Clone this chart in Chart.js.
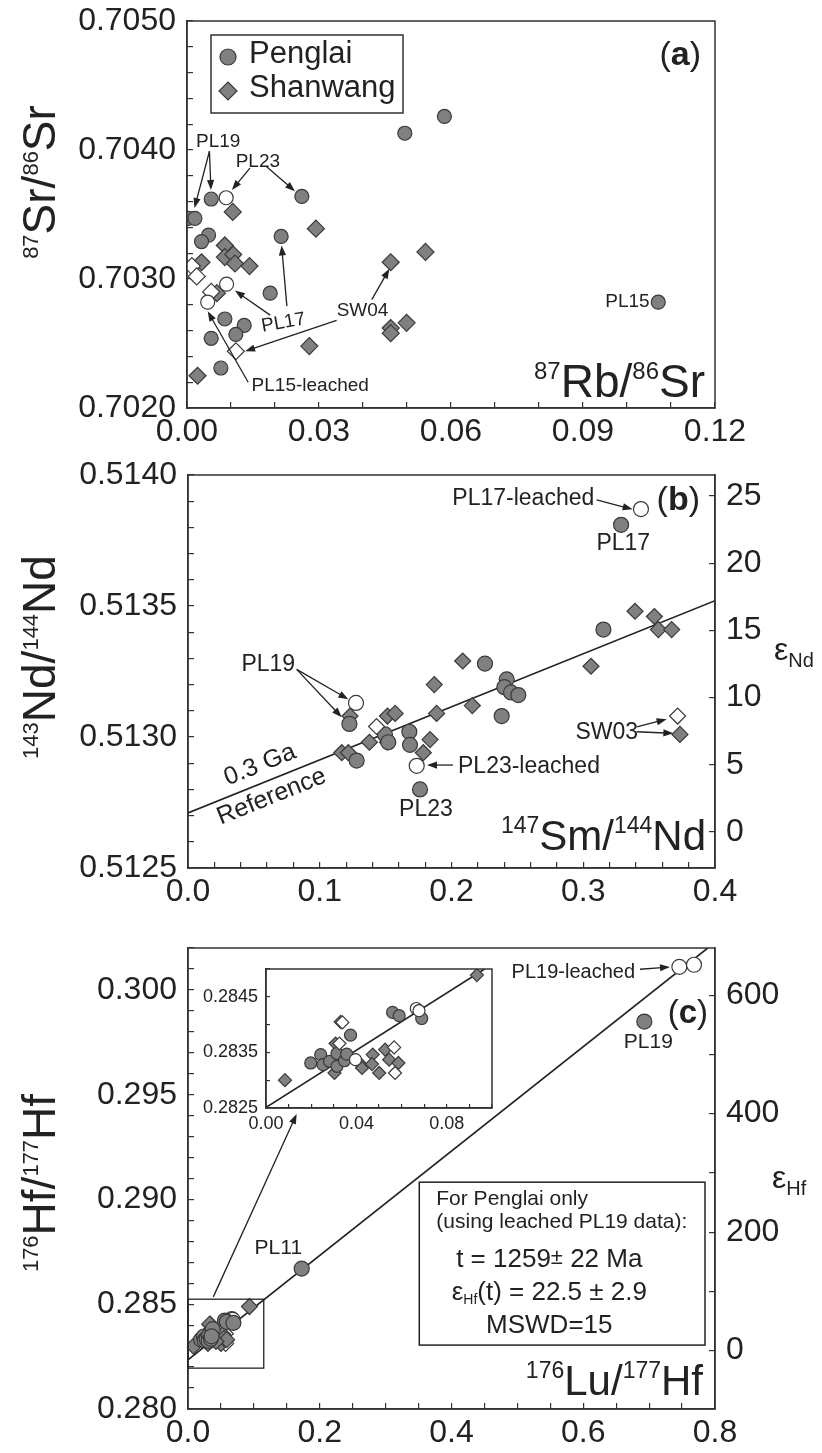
<!DOCTYPE html>
<html>
<head>
<meta charset="utf-8">
<title>Rb-Sr, Sm-Nd and Lu-Hf diagrams</title>
<script src="https://cdn.jsdelivr.net/npm/chart.js@4.4.1/dist/chart.umd.min.js"></script>
<style>
  body { margin: 0; background: #fff; }
  #page { position: relative; width: 822px; height: 1453px; overflow: hidden; }
  #page canvas { position: absolute; }
</style>
</head>
<body>
<div id="page">
  <canvas id="rbsr" width="822" height="450" style="left:0;top:0"></canvas>
  <canvas id="smnd" width="822" height="460" style="left:0;top:450px"></canvas>
  <canvas id="luhf" width="822" height="543" style="left:0;top:910px"></canvas>
  <canvas id="luhfZoom" width="320" height="185" style="left:190px;top:955px"></canvas>
</div>
<script>
// ---- (a) 87Rb/86Sr vs 87Sr/86Sr ----
const aPenglaiX = [0.0003, 0.0018, 0.0055, 0.0261, 0.0049, 0.0033, 0.0214, 0.0189, 0.0086, 0.0130, 0.0111, 0.0055, 0.0077, 0.0495, 0.0585, 0.1071];
const aPenglaiY = [0.70347, 0.70347, 0.70362, 0.70364, 0.70334, 0.70329, 0.70333, 0.70289, 0.70269, 0.70264, 0.70257, 0.70254, 0.70231, 0.70413, 0.70426, 0.70282];
const aPenglaiLeachedX = [0.0089, 0.0090, 0.0047];
const aPenglaiLeachedY = [0.70363, 0.70296, 0.70282];
const aShanwangX = [0.0104, 0.0293, 0.0086, 0.0086, 0.0105, 0.0109, 0.0033, 0.0142, 0.0542, 0.0463, 0.0068, 0.0463, 0.0463, 0.0499, 0.0278, 0.0024];
const aShanwangY = [0.70352, 0.70339, 0.70326, 0.70317, 0.70319, 0.70312, 0.70313, 0.70310, 0.70321, 0.70313, 0.70289, 0.70262, 0.70258, 0.70266, 0.70248, 0.70225];
const aShanwangLeachedX = [0.0011, 0.0022, 0.0055, 0.0111];
const aShanwangLeachedY = [0.70310, 0.70302, 0.70290, 0.70244];

// ---- (b) 147Sm/144Nd vs 143Nd/144Nd ----
const bPenglaiX = [0.1225, 0.1280, 0.1495, 0.1520, 0.1680, 0.1685, 0.1761, 0.2254, 0.2419, 0.2401, 0.2452, 0.2507, 0.2381, 0.3153, 0.3287];
const bPenglaiY = [0.51305, 0.51291, 0.51301, 0.51298, 0.51302, 0.51297, 0.51280, 0.51328, 0.51322, 0.51319, 0.51317, 0.51316, 0.51308, 0.51341, 0.51381];
const bPenglaiLeachedX = [0.1275, 0.1736, 0.3438];
const bPenglaiLeachedY = [0.51313, 0.51289, 0.51387];
const bShanwangX = [0.1230, 0.1167, 0.1217, 0.1377, 0.1514, 0.1572, 0.1514, 0.1786, 0.1837, 0.1869, 0.1887, 0.2085, 0.2158, 0.3059, 0.3393, 0.3540, 0.3570, 0.3671, 0.3734];
const bShanwangY = [0.51308, 0.51294, 0.51294, 0.51298, 0.51308, 0.51309, 0.51298, 0.51294, 0.51299, 0.51320, 0.51309, 0.51329, 0.51312, 0.51327, 0.51348, 0.51346, 0.51341, 0.51341, 0.51301];
const bShanwangLeachedX = [0.1431, 0.3716];
const bShanwangLeachedY = [0.51304, 0.51308];
const bRefX = [0, 0.4];          // 0.3 Ga reference line
const bRefY = [0.51271, 0.51352];

// ---- (c) 176Lu/177Hf vs 176Hf/177Hf ----
const cPenglaiX = [0.0198, 0.0242, 0.0252, 0.0281, 0.0314, 0.0314, 0.0347, 0.0374, 0.0560, 0.0589, 0.0689, 0.0357, 0.1726, 0.6927];
const cPenglaiY = [0.28331, 0.28346, 0.28328, 0.28334, 0.28348, 0.28325, 0.28335, 0.28381, 0.28422, 0.28416, 0.28411, 0.28347, 0.28670, 0.29849];
const cPenglaiLeachedX = [0.0396, 0.0665, 0.0677, 0.7459, 0.7681];
const cPenglaiLeachedY = [0.28337, 0.28429, 0.28425, 0.30110, 0.30120];
const cShanwangX = [0.0084, 0.0330, 0.0308, 0.0303, 0.0421, 0.0472, 0.0469, 0.0501, 0.0527, 0.0545, 0.0586, 0.0933, 0.0425];
const cShanwangY = [0.28300, 0.28405, 0.28366, 0.28313, 0.28328, 0.28346, 0.28329, 0.28313, 0.28355, 0.28337, 0.28331, 0.28489, 0.28322];
const cShanwangLeachedX = [0.0338, 0.0325, 0.0567, 0.0571];
const cShanwangLeachedY = [0.28404, 0.28366, 0.28359, 0.28313];
const cIsoX = [0, 0.789];        // Penglai isochron, main panel
const cIsoY = [0.28235, 0.302];
const cInsetIsoX = [0, 0.0967];  // same isochron as drawn in the inset
const cInsetIsoY = [0.28251, 0.2850];

// chondritic values used for the epsilon axes
const CHUR_ND = 0.512638;
const CHUR_HF = 0.282785;

const FAMILY = "'Liberation Sans', Arial, Helvetica, sans-serif";
const INK = '#222';
const AXIS = '#333';
const FILL = '#808080';
const EDGE = '#3a3a3a';

const fontOf = (s, bold) => (bold ? 'bold ' : '') + s + 'px ' + FAMILY;
const pts = (xs, ys) => xs.map((x, i) => ({ x, y: ys[i] }));
const onStep = (v, every) => Math.abs(v / every - Math.round(v / every)) < 1e-6;

function marks(xs, ys, style, open, r) {
  return {
    data: pts(xs, ys),
    pointStyle: style,
    pointRadius: r,
    pointBackgroundColor: open ? '#ffffff' : FILL,
    pointBorderColor: EDGE,
    pointBorderWidth: 1.2,
    showLine: false
  };
}

function refLine(xs, ys) {
  return { data: pts(xs, ys), showLine: true, pointRadius: 0, borderColor: INK, borderWidth: 1.6, fill: false };
}

function axis(pos, min, max, step, every, digits, room, pad, more) {
  const o = more || {};
  const offset = o.offset || 0;
  return {
    type: 'linear', position: pos, min, max,
    afterFit(scale) {
      // fixed axis size, and no extra room reserved for end labels
      if (scale.isHorizontal()) { scale.height = room; scale.paddingLeft = 0; scale.paddingRight = 0; }
      else { scale.width = room; scale.paddingTop = 0; scale.paddingBottom = 0; }
    },
    border: { color: AXIS, width: 1.5 },
    grid: { drawOnChartArea: false, color: AXIS, lineWidth: 1.2, tickLength: o.tick || -6 },
    ticks: {
      stepSize: step, autoSkip: false, maxRotation: 0, includeBounds: false,
      padding: pad, color: INK, font: { family: FAMILY, size: o.size || 32 },
      callback: v => onStep(v - offset, every) ? v.toFixed(digits) : ''
    }
  };
}

// text with super/subscripts: parts = [text, size, rise, bold]
function textRun(ctx, parts, x, y, align) {
  let w = 0;
  parts.forEach(p => { ctx.font = fontOf(p[1], p[3]); w += ctx.measureText(p[0]).width; });
  let cx = align === 'center' ? x - w / 2 : align === 'right' ? x - w : x;
  ctx.textAlign = 'left';
  ctx.textBaseline = 'alphabetic';
  parts.forEach(p => {
    ctx.font = fontOf(p[1], p[3]);
    ctx.fillText(p[0], cx, y + (p[2] || 0));
    cx += ctx.measureText(p[0]).width;
  });
}

function note(ctx, text, x, y, size, rot) {
  ctx.save();
  ctx.translate(x, y);
  ctx.rotate(rot || 0);
  ctx.font = fontOf(size);
  ctx.textAlign = 'center';
  ctx.textBaseline = 'middle';
  ctx.fillText(text, 0, 0);
  ctx.restore();
}

function arrowTo(ctx, x1, y1, x2, y2) {
  const a = Math.atan2(y2 - y1, x2 - x1), L = 10, W = 3.6;
  ctx.beginPath();
  ctx.moveTo(x1, y1);
  ctx.lineTo(x2 - L * 0.8 * Math.cos(a), y2 - L * 0.8 * Math.sin(a));
  ctx.stroke();
  ctx.beginPath();
  ctx.moveTo(x2, y2);
  ctx.lineTo(x2 - L * Math.cos(a) + W * Math.sin(a), y2 - L * Math.sin(a) - W * Math.cos(a));
  ctx.lineTo(x2 - L * Math.cos(a) - W * Math.sin(a), y2 - L * Math.sin(a) + W * Math.cos(a));
  ctx.closePath();
  ctx.fill();
}

function marker(ctx, shape, x, y, r, open) {
  ctx.beginPath();
  if (shape === 'circle') ctx.arc(x, y, r, 0, Math.PI * 2);
  else { ctx.moveTo(x, y - r); ctx.lineTo(x + r, y); ctx.lineTo(x, y + r); ctx.lineTo(x - r, y); ctx.closePath(); }
  ctx.fillStyle = open ? '#fff' : FILL;
  ctx.fill();
  ctx.strokeStyle = EDGE;
  ctx.lineWidth = 1.2;
  ctx.stroke();
}

// frame, titles, labels and arrows for one panel
function sheet(spec) {
  return {
    id: 'sheet',
    afterDraw(chart) {
      const { ctx, chartArea: ca, scales } = chart;
      const X = v => scales.x.getPixelForValue(v);
      const Y = v => scales.y.getPixelForValue(v);
      ctx.save();
      ctx.strokeStyle = AXIS;
      ctx.lineWidth = 1.5;
      ctx.strokeRect(ca.left, ca.top, ca.width, ca.height);
      ctx.fillStyle = INK;
      ctx.strokeStyle = INK;
      ctx.lineWidth = 1.3;
      if (spec.yTitle) {
        ctx.save();
        ctx.translate(spec.yTitle.x, spec.yTitle.y);
        ctx.rotate(-Math.PI / 2);
        textRun(ctx, spec.yTitle.parts, 0, 0, 'center');
        ctx.restore();
      }
      if (spec.xTitle) textRun(ctx, spec.xTitle.parts, ca.right + spec.xTitle.dx, ca.bottom + spec.xTitle.dy, 'right');
      if (spec.sideTitle) textRun(ctx, spec.sideTitle.parts, spec.sideTitle.x, spec.sideTitle.y, 'left');
      if (spec.tag) textRun(ctx, spec.tag.parts, ca.right + spec.tag.dx, ca.top + spec.tag.dy, 'right');
      (spec.notes || []).forEach(n => note(ctx, n[0], X(n[1]), Y(n[2]), n[3] || spec.noteSize, (n[4] || 0) * Math.PI / 180));
      (spec.arrows || []).forEach(a => arrowTo(ctx, X(a[0]), Y(a[1]), X(a[2]), Y(a[3])));
      if (spec.extra) spec.extra(ctx, ca, X, Y);
      ctx.restore();
    }
  };
}

const common = padding => ({
  responsive: false,
  animation: false,
  events: [],
  layout: { padding },
  plugins: { legend: { display: false }, tooltip: { enabled: false } }
});

// ---------- (a) ----------
new Chart(document.getElementById('rbsr'), {
  type: 'scatter',
  data: {
    datasets: [
      marks(aPenglaiLeachedX, aPenglaiLeachedY, 'circle', true, 7),
      marks(aShanwangLeachedX, aShanwangLeachedY, 'rectRot', true, 8.5),
      marks(aPenglaiX, aPenglaiY, 'circle', false, 7),
      marks(aShanwangX, aShanwangY, 'rectRot', false, 8.5)
    ]
  },
  options: {
    ...common({ left: 0, right: 107, top: 21, bottom: 0 }),
    scales: {
      x: axis('bottom', 0, 0.12, 0.01, 0.03, 2, 42, 11),
      y: axis('left', 0.7020, 0.7050, 0.0002, 0.001, 4, 187, 17)
    }
  },
  plugins: [sheet({
    yTitle: { x: 55, y: 182, parts: [['87', 22, -17], ['Sr/', 46], ['86', 22, -17], ['Sr', 46]] },
    xTitle: { dx: -10, dy: -11, parts: [['87', 24, -18], ['Rb/', 46], ['86', 24, -18], ['Sr', 46]] },
    tag: { dx: -14, dy: 44, parts: [['(', 34], ['a', 34, 0, true], [')', 34]] },
    noteSize: 19,
    notes: [
      ['PL19', 0.0071, 0.70406], ['PL23', 0.0161, 0.70391], ['PL17', 0.0219, 0.70266, 19, -10],
      ['SW04', 0.0399, 0.70275], ['PL15-leached', 0.0280, 0.70217], ['PL15', 0.1001, 0.70282]
    ],
    arrows: [
      [0.0051, 0.70399, 0.0017, 0.70355], [0.0051, 0.70399, 0.00545, 0.70369],
      [0.0143, 0.70386, 0.0102, 0.70369], [0.0181, 0.70387, 0.02455, 0.70368],
      [0.0189, 0.70272, 0.0109, 0.70291], [0.0227, 0.70279, 0.0215, 0.70326],
      [0.0420, 0.70284, 0.0460, 0.70308], [0.0340, 0.70268, 0.0132, 0.70244],
      [0.0139, 0.70220, 0.0047, 0.70275]
    ],
    extra(ctx, ca) {
      const bx = ca.left + 24, by = ca.top + 14;
      ctx.strokeStyle = AXIS;
      ctx.lineWidth = 1.5;
      ctx.strokeRect(bx, by, 192, 78);
      marker(ctx, 'circle', bx + 17, by + 22, 8, false);
      marker(ctx, 'diamond', bx + 17, by + 56, 9, false);
      ctx.fillStyle = INK;
      ctx.font = fontOf(31);
      ctx.textAlign = 'left';
      ctx.textBaseline = 'middle';
      ctx.fillText('Penglai', bx + 38, by + 19);
      ctx.fillText('Shanwang', bx + 38, by + 53);
    }
  })]
});

// ---------- (b) ----------
new Chart(document.getElementById('smnd'), {
  type: 'scatter',
  data: {
    datasets: [
      marks(bPenglaiLeachedX, bPenglaiLeachedY, 'circle', true, 7.5),
      marks(bShanwangLeachedX, bShanwangLeachedY, 'rectRot', true, 8),
      marks(bPenglaiX, bPenglaiY, 'circle', false, 7.5),
      marks(bShanwangX, bShanwangY, 'rectRot', false, 8),
      refLine(bRefX, bRefY)
    ]
  },
  options: {
    ...common({ left: 0, right: 0, top: 25, bottom: 0 }),
    scales: {
      x: axis('bottom', 0, 0.4, 0.02, 0.1, 1, 42, 11),
      y: axis('left', 0.5125, 0.5140, 0.0001, 0.0005, 4, 188, 17),
      eps: axis('right', (0.5125 / CHUR_ND - 1) * 1e4, (0.5140 / CHUR_ND - 1) * 1e4, 5, 5, 0, 107, 17)
    }
  },
  plugins: [sheet({
    yTitle: { x: 55, y: 207, parts: [['143', 22, -17], ['Nd/', 46], ['144', 22, -17], ['Nd', 46]] },
    xTitle: { dx: -9, dy: -18, parts: [['147', 23, -17], ['Sm/', 42], ['144', 23, -17], ['Nd', 42]] },
    sideTitle: { x: 774, y: 210, parts: [['ε', 32], ['Nd', 20, 7]] },
    tag: { dx: -15, dy: 35, parts: [['(', 34], ['b', 34, 0, true], [')', 34]] },
    noteSize: 23,
    notes: [
      ['PL19', 0.0609, 0.513275], ['PL23-leached', 0.2588, 0.512887], ['PL23', 0.1806, 0.512721],
      ['PL17-leached', 0.2545, 0.513911], ['PL17', 0.3304, 0.513739], ['SW03', 0.3178, 0.513016]
    ],
    arrows: [
      [0.0825, 0.513258, 0.1217, 0.513144], [0.0825, 0.513258, 0.1167, 0.513075],
      [0.2011, 0.512893, 0.1814, 0.512893], [0.3102, 0.513905, 0.3375, 0.513869],
      [0.3406, 0.513039, 0.3633, 0.513068], [0.3406, 0.513020, 0.3684, 0.513014]
    ],
    extra(ctx, ca, X, Y) {
      const ang = Math.atan2(Y(bRefY[1]) - Y(bRefY[0]), X(bRefX[1]) - X(bRefX[0]));
      note(ctx, '0.3 Ga', X(0.0546), Y(0.512893), 25, ang);
      note(ctx, 'Reference', X(0.0635), Y(0.512772), 25, ang);
    }
  })]
});

// ---------- (c) ----------
new Chart(document.getElementById('luhf'), {
  type: 'scatter',
  data: {
    datasets: [
      marks(cPenglaiX, cPenglaiY, 'circle', false, 7.5),
      marks(cShanwangX, cShanwangY, 'rectRot', false, 8),
      marks(cPenglaiLeachedX, cPenglaiLeachedY, 'circle', true, 7.5),
      marks(cShanwangLeachedX, cShanwangLeachedY, 'rectRot', true, 8),
      refLine(cIsoX, cIsoY)
    ]
  },
  options: {
    ...common({ left: 0, right: 0, top: 38, bottom: 0 }),
    scales: {
      x: axis('bottom', 0, 0.8, 0.05, 0.2, 1, 44, 11),
      y: axis('left', 0.280, 0.302, 0.001, 0.005, 3, 188, 17),
      eps: axis('right', (0.280 / CHUR_HF - 1) * 1e4, (0.302 / CHUR_HF - 1) * 1e4, 100, 200, 0, 107, 17)
    }
  },
  plugins: [sheet({
    yTitle: { x: 55, y: 273, parts: [['176', 22, -17], ['Hf/', 46], ['177', 22, -17], ['Hf', 46]] },
    xTitle: { dx: -12, dy: -14, parts: [['176', 23, -17], ['Lu/', 42], ['177', 23, -17], ['Hf', 42]] },
    sideTitle: { x: 772, y: 278, parts: [['ε', 32], ['Hf', 20, 7]] },
    tag: { dx: -7, dy: 75, parts: [['(', 33], ['c', 33, 0, true], [')', 33]] },
    noteSize: 21,
    notes: [
      ['PL11', 0.1371, 0.287652], ['PL19-leached', 0.5849, 0.300824, 20], ['PL19', 0.6988, 0.29749]
    ],
    arrows: [
      [0.6862, 0.300986, 0.7317, 0.301095], [0.0384, 0.28535, 0.165, 0.29408]
    ],
    extra(ctx, ca, X, Y) {
      ctx.strokeStyle = INK;
      ctx.lineWidth = 1.3;
      // outline of the zoomed region
      ctx.strokeRect(X(0), Y(0.28524), X(0.115) - X(0), Y(0.28195) - Y(0.28524));
      // result box
      const l = X(0.3511), t = Y(0.290824), r = X(0.7848), b = Y(0.28305);
      ctx.lineWidth = 1.5;
      ctx.strokeRect(l, t, r - l, b - t);
      ctx.fillStyle = INK;
      ctx.font = fontOf(21);
      ctx.textAlign = 'left';
      ctx.textBaseline = 'middle';
      ctx.fillText('For Penglai only', l + 17, t + 17);
      ctx.fillText('(using leached PL19 data):', l + 17, t + 40);
      const mid = l + 130;
      textRun(ctx, [['t = 1259', 26], ['±', 22, -3], [' 22 Ma', 26]], mid, t + 85, 'center');
      textRun(ctx, [['ε', 26], ['Hf', 14, 4], ['(t) = 22.5 ± 2.9', 26]], mid, t + 118, 'center');
      textRun(ctx, [['MSWD=15', 26]], mid, t + 151, 'center');
    }
  })]
});

// ---------- (c) inset ----------
new Chart(document.getElementById('luhfZoom'), {
  type: 'scatter',
  data: {
    datasets: [
      marks(cPenglaiLeachedX, cPenglaiLeachedY, 'circle', true, 6),
      marks(cShanwangLeachedX, cShanwangLeachedY, 'rectRot', true, 6.5),
      marks(cPenglaiX, cPenglaiY, 'circle', false, 6),
      marks(cShanwangX, cShanwangY, 'rectRot', false, 6.5),
      refLine(cInsetIsoX, cInsetIsoY)
    ]
  },
  options: {
    ...common({ left: 0, right: 18, top: 14, bottom: 0 }),
    scales: {
      x: axis('bottom', 0, 0.10, 0.01, 0.04, 2, 32, 9, { size: 18, tick: -4 }),
      y: axis('left', 0.2825, 0.2850, 0.0005, 0.001, 4, 76, 12, { size: 18, tick: -4, offset: 0.0005 })
    }
  },
  plugins: [
    {
      id: 'paper',
      beforeDraw(chart) {
        const { ctx, chartArea: ca } = chart;
        ctx.save();
        ctx.fillStyle = '#fff';
        ctx.fillRect(ca.left, ca.top, ca.width, ca.height);
        ctx.restore();
      }
    },
    sheet({})
  ]
});
</script>
</body>
</html>
